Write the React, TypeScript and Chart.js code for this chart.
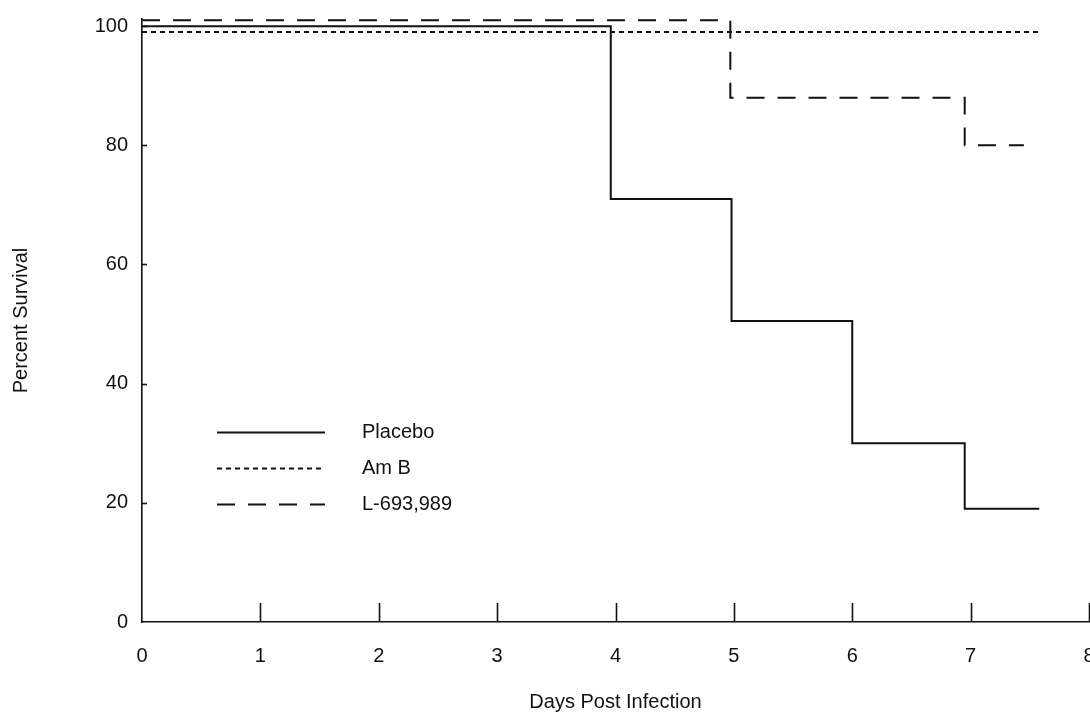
import React, { useEffect, useRef } from "react";
import { Chart, registerables } from "chart.js";

Chart.register(...registerables);

// ---- Data ----
const placeboDays = [0, 3.96, 4.98, 6.0, 6.95, 7.58];
const placeboSurvival = [100, 71, 50.5, 30, 19, 19];

const amBDays = [0, 7.57];
const amBSurvival = [99, 99];

const lDays = [0, 4.97, 6.95, 7.45];
const lSurvival = [101, 88, 80, 80];

const seriesLabels = ["Placebo", "Am B", "L-693,989"];
const xTickValues = [0, 1, 2, 3, 4, 5, 6, 7, 8];
const yTickValues = [0, 20, 40, 60, 80, 100];

const FONT = "'Liberation Sans', Arial, Helvetica, sans-serif";
const INK = "#111";

const toPoints = (xs: number[], ys: number[]) => xs.map((x, i) => ({ x, y: ys[i] }));

const inwardTicks = {
  id: "inwardTicks",
  afterDatasetsDraw(chart: any) {
    const { ctx, chartArea, scales } = chart;
    ctx.save();
    ctx.strokeStyle = INK;
    ctx.lineWidth = 1.6;
    xTickValues.forEach((v) => {
      if (v === 0) return;
      const px = Math.round(scales.x.getPixelForValue(v)) + 0.5;
      ctx.beginPath();
      ctx.moveTo(px, chartArea.bottom);
      ctx.lineTo(px, chartArea.bottom - 19);
      ctx.stroke();
    });
    yTickValues.forEach((v) => {
      if (v === 0) return;
      const py = Math.round(scales.y.getPixelForValue(v)) + 0.5;
      ctx.beginPath();
      ctx.moveTo(chartArea.left, py);
      ctx.lineTo(chartArea.left + 5, py);
      ctx.stroke();
    });
    ctx.restore();
  },
};

const insideLegend = {
  id: "insideLegend",
  afterDatasetsDraw(chart: any) {
    const { ctx, chartArea } = chart;
    const x0 = chartArea.left + 75;
    const x1 = chartArea.left + 183;
    const tx = chartArea.left + 220;
    const y0 = chartArea.top + 413;
    const dy = 36;
    ctx.save();
    chart.data.datasets.forEach((ds: any, i: number) => {
      const y = Math.round(y0 + i * dy) + 0.5;
      ctx.strokeStyle = INK;
      ctx.lineWidth = ds.borderWidth;
      ctx.setLineDash(ds.borderDash || []);
      ctx.beginPath();
      ctx.moveTo(x0, y);
      ctx.lineTo(x1, y);
      ctx.stroke();
      ctx.setLineDash([]);
      ctx.fillStyle = INK;
      ctx.font = `20px ${FONT}`;
      ctx.textBaseline = "middle";
      ctx.textAlign = "left";
      ctx.fillText(ds.label, tx, y);
    });
    ctx.restore();
  },
};

export default function App() {
  const canvasRef = useRef<HTMLCanvasElement | null>(null);

  useEffect(() => {
    const canvas = canvasRef.current;
    if (!canvas) return;
    const chart = new Chart(canvas, {
      type: "line",
      data: {
        datasets: [
          {
            label: seriesLabels[0],
            data: toPoints(placeboDays, placeboSurvival),
            borderColor: INK,
            borderWidth: 2,
            stepped: "before",
            pointRadius: 0,
            fill: false,
            clip: false,
          },
          {
            label: seriesLabels[1],
            data: toPoints(amBDays, amBSurvival),
            borderColor: INK,
            borderWidth: 2,
            borderDash: [5, 4],
            stepped: "before",
            pointRadius: 0,
            fill: false,
            clip: false,
          },
          {
            label: seriesLabels[2],
            data: toPoints(lDays, lSurvival),
            borderColor: INK,
            borderWidth: 2,
            borderDash: [18, 13],
            stepped: "before",
            pointRadius: 0,
            fill: false,
            clip: false,
          },
        ],
      },
      options: {
        animation: false,
        responsive: true,
        maintainAspectRatio: false,
        layout: { padding: { top: 19, right: 1, bottom: 0, left: 0 } },
        plugins: {
          legend: { display: false },
          tooltip: { enabled: false },
        },
        scales: {
          x: {
            type: "linear",
            min: 0,
            max: 8,
            afterBuildTicks: (s: any) => {
              s.ticks = xTickValues.map((v) => ({ value: v }));
            },
            afterFit: (s: any) => {
              s.height = 93;
              s.paddingLeft = 0;
              s.paddingRight = 0;
            },
            grid: { display: true, drawOnChartArea: false, drawTicks: false },
            border: { display: true, color: INK, width: 1.6 },
            ticks: {
              color: INK,
              padding: 22,
              maxRotation: 0,
              autoSkip: false,
              font: { family: FONT, size: 20 },
              callback: (v: any) => String(v),
            },
            title: {
              display: true,
              text: "Days Post Infection",
              color: INK,
              font: { family: FONT, size: 20 },
              padding: { top: 0, bottom: 1 },
            },
          },
          y: {
            type: "linear",
            min: 0,
            max: 101.2,
            afterBuildTicks: (s: any) => {
              s.ticks = yTickValues.map((v) => ({ value: v }));
            },
            afterFit: (s: any) => {
              s.width = 142;
              s.paddingTop = 0;
              s.paddingBottom = 0;
            },
            grid: { display: true, drawOnChartArea: false, drawTicks: false },
            border: { display: true, color: INK, width: 1.6 },
            ticks: {
              color: INK,
              padding: 14,
              autoSkip: false,
              font: { family: FONT, size: 20 },
              callback: (v: any) => String(v),
            },
            title: {
              display: true,
              text: "Percent Survival",
              color: INK,
              font: { family: FONT, size: 20 },
              padding: { top: 9, bottom: 0 },
            },
          },
        },
      },
      plugins: [inwardTicks, insideLegend],
    });
    return () => chart.destroy();
  }, []);

  return (
    <div
      style={{
        position: "absolute",
        left: 0,
        top: 0,
        width: "1090px",
        height: "715px",
        background: "#fff",
      }}
    >
      <canvas ref={canvasRef} />
    </div>
  );
}
